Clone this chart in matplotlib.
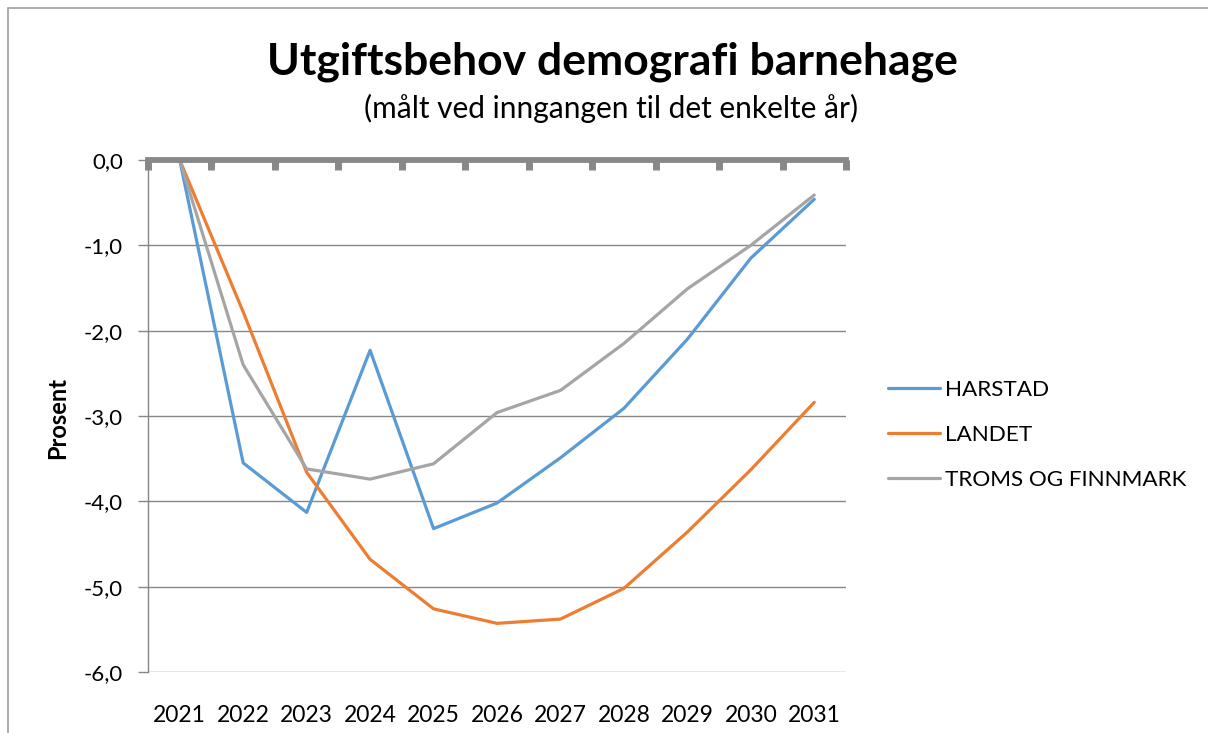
import matplotlib
matplotlib.use("Agg")
import matplotlib.pyplot as plt
from matplotlib.patches import Rectangle

years = ["2021", "2022", "2023", "2024", "2025", "2026", "2027", "2028", "2029", "2030", "2031"]
harstad = [0.0, -3.55, -4.13, -2.23, -4.32, -4.02, -3.49, -2.91, -2.10, -1.15, -0.46]
landet = [0.0, -1.78, -3.66, -4.68, -5.26, -5.43, -5.38, -5.02, -4.36, -3.63, -2.84]
troms = [0.0, -2.40, -3.62, -3.74, -3.56, -2.96, -2.70, -2.15, -1.51, -1.00, -0.41]
series_names = ["HARSTAD", "LANDET", "TROMS OG FINNMARK"]
colors = ["#5B9BD5", "#ED7D31", "#A5A5A5"]
yticks = [0, -1, -2, -3, -4, -5, -6]

plt.rcParams['font.family'] = ['Lato', 'DejaVu Sans']

W, H = 1208, 733
fig = plt.figure(figsize=(W / 100, H / 100), dpi=100)
fig.patch.set_facecolor("white")

# outer chart border
fig.add_artist(Rectangle((8 / W, -0.1), 1.2, 1 - 8 / H + 0.1, transform=fig.transFigure,
                         fill=False, edgecolor="#A0A0A0", lw=1.2))

ax = fig.add_axes([148 / W, 1 - 672 / H, (846 - 148) / W, (672 - 160) / H])
x = list(range(len(years)))
for vals, name, c in zip([harstad, landet, troms], series_names, colors):
    ax.plot(x, vals, color=c, lw=2.3, label=name, solid_capstyle="round", zorder=3)

ax.set_xlim(-0.5, len(years) - 0.5)
ax.set_ylim(-6, 0)
ax.set_yticks(yticks)
ax.set_yticklabels([f"{v:.1f}".replace(".", ",") for v in yticks], fontsize=16)
ax.set_xticks(x)
ax.set_xticklabels(years, fontsize=16.5)
ax.tick_params(axis="x", which="major", length=0, pad=24)
ax.set_xticks([i - 0.5 for i in range(len(years) + 1)], minor=True)
ax.tick_params(axis="x", which="minor", top=True, bottom=False, direction="in",
               length=7, width=5, color="#888888")
ax.tick_params(axis="y", length=7, width=1, color="#868686", pad=11)

for sp in ["right", "top", "bottom"]:
    ax.spines[sp].set_visible(False)
ax.spines["left"].set_color("#868686")
ax.spines["left"].set_linewidth(1)

for v in yticks[1:]:
    ax.axhline(v, color="#868686", lw=1, zorder=1)
ax.axhline(0, color="#888888", lw=4.2, zorder=4, clip_on=False)

fig.text(58 / W, 1 - 418 / H, "Prosent", rotation=90, ha="center", va="center",
         fontsize=17, fontweight="bold")

fig.text(612 / W, 1 - 62 / H, "Utgiftsbehov demografi barnehage", ha="center", va="center",
         fontsize=32, fontweight="bold")
fig.text(611 / W, 1 - 108 / H, "(målt ved inngangen til det enkelte år)", ha="center", va="center",
         fontsize=21.5)

leg = fig.legend(loc="center left", bbox_to_anchor=(888 / W, 1 - 435 / H), frameon=False,
                 fontsize=16.2, handlelength=2.3, labelspacing=1.12, handletextpad=0.25,
                 borderpad=0, borderaxespad=0)

fig.savefig("out.png", dpi=100)
